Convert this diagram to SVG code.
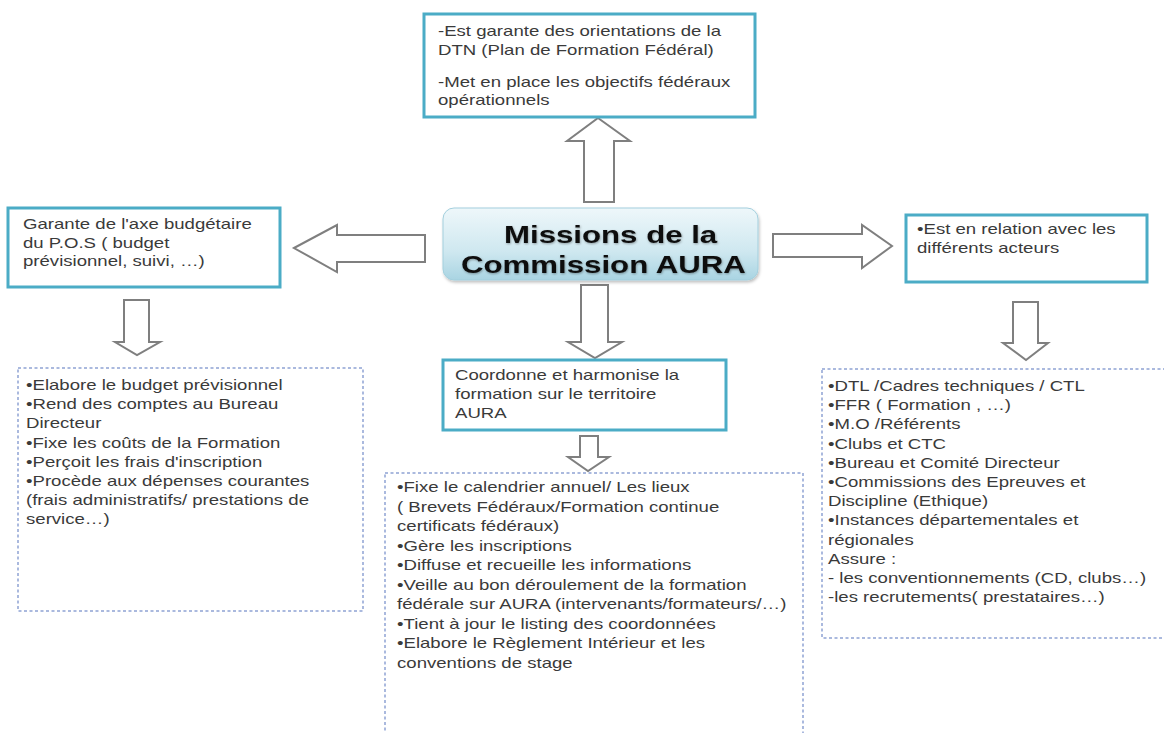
<svg xmlns="http://www.w3.org/2000/svg" width="1164" height="733" viewBox="0 0 1164 733">
  <defs>
    <linearGradient id="cg" x1="0" y1="0" x2="0" y2="1">
      <stop offset="0" stop-color="#eef7fa"/>
      <stop offset="0.6" stop-color="#cfe8f0"/>
      <stop offset="1" stop-color="#a9d4e2"/>
    </linearGradient>
    <filter id="sh" x="-10%" y="-10%" width="120%" height="130%">
      <feDropShadow dx="1" dy="2" stdDeviation="1.5" flood-color="#000" flood-opacity="0.25"/>
    </filter>
    <filter id="tsh" x="-5%" y="-20%" width="110%" height="140%">
      <feDropShadow dx="0.5" dy="1" stdDeviation="0.8" flood-color="#000" flood-opacity="0.35"/>
    </filter>
  </defs>
  <style>
    .box { fill: #ffffff; stroke: #4bacc6; stroke-width: 3; }
    .dot { fill: #ffffff; stroke: #8ea3d4; stroke-width: 1.5; stroke-dasharray: 3 2.5; }
    .arr { fill: #ffffff; stroke: #7f7f7f; stroke-width: 2; stroke-linejoin: miter; }
    .t { font-family: "Liberation Sans", Arial, sans-serif; font-size: 14.3px; fill: #3a3a3a; }
    .title { font-family: "Liberation Sans", Arial, sans-serif; font-size: 24px; font-weight: bold; fill: #111; }
  </style>
  <rect width="1164" height="733" fill="#ffffff"/>

  <g id="connectors">
    <polygon class="arr" points="598,118 630,141 614,141 614,202 584,202 584,141 567,141"/>
    <polygon class="arr" points="294,248 337,225 337,235 425,235 425,262 337,262 337,272"/>
    <polygon class="arr" points="773,234 862,234 862,225 892,246 862,268 862,257 773,257"/>
    <polygon class="arr" points="581,285 608,285 608,342 622,342 595,358 568,342 581,342"/>
    <polygon class="arr" points="580,436 598,436 598,457 609,457 588,471 568,457 580,457"/>
    <polygon class="arr" points="124,300 149,300 149,342 160,342 137,355 115,342 124,342"/>
    <polygon class="arr" points="1013,302 1038,302 1038,343 1048,343 1026,360 1003,343 1013,343"/>
  </g>

  <g id="node-top">
    <rect class="box" x="424" y="14" width="331" height="103"/>
    <text class="t" transform="translate(438,0) scale(1.3,1)">
      <tspan x="0" y="36">-Est garante des orientations de la</tspan>
      <tspan x="0" y="55">DTN (Plan de Formation Fédéral)</tspan>
      <tspan x="0" y="87">-Met en place les objectifs fédéraux</tspan>
      <tspan x="0" y="105">opérationnels</tspan>
    </text>
  </g>

  <g id="node-center">
    <rect x="443" y="208" width="315" height="72" rx="11" fill="url(#cg)" stroke="#a3cfdd" stroke-width="1" filter="url(#sh)"/>
    <text class="title" filter="url(#tsh)" transform="translate(504,0) scale(1.3,1)">
      <tspan x="0" y="243">Missions de la</tspan>
    </text>
    <text class="title" filter="url(#tsh)" transform="translate(461,0) scale(1.3,1)">
      <tspan x="0" y="273">Commission AURA</tspan>
    </text>
  </g>

  <g id="node-left">
    <rect class="box" x="8" y="208" width="272" height="79"/>
    <text class="t" transform="translate(23,0) scale(1.3,1)">
      <tspan x="0" y="229">Garante de l'axe budgétaire</tspan>
      <tspan x="0" y="248">du P.O.S ( budget</tspan>
      <tspan x="0" y="266">prévisionnel, suivi, …)</tspan>
    </text>
  </g>

  <g id="node-right">
    <rect class="box" x="906" y="215" width="241" height="67"/>
    <text class="t" transform="translate(917,0) scale(1.3,1)">
      <tspan x="0" y="234">•Est en relation avec les</tspan>
      <tspan x="0" y="253">différents acteurs</tspan>
    </text>
  </g>

  <g id="node-coord">
    <rect class="box" x="443" y="360" width="283" height="70"/>
    <text class="t" transform="translate(455,0) scale(1.3,1)">
      <tspan x="0" y="380">Coordonne et harmonise la</tspan>
      <tspan x="0" y="399">formation sur le territoire</tspan>
      <tspan x="0" y="418">AURA</tspan>
    </text>
  </g>

  <g id="node-left-list">
    <rect class="dot" x="18" y="368" width="345" height="243"/>
    <text class="t" transform="translate(26,0) scale(1.3,1)">
      <tspan x="0" y="390">•Elabore le budget prévisionnel</tspan>
      <tspan x="0" y="409.2">•Rend des comptes au Bureau</tspan>
      <tspan x="0" y="428.4">Directeur</tspan>
      <tspan x="0" y="447.6">•Fixe les coûts de la Formation</tspan>
      <tspan x="0" y="466.8">•Perçoit les frais d'inscription</tspan>
      <tspan x="0" y="486">•Procède aux dépenses courantes</tspan>
      <tspan x="0" y="505.2">(frais administratifs/ prestations de</tspan>
      <tspan x="0" y="524.4">service…)</tspan>
    </text>
  </g>

  <g id="node-middle-list">
    <rect class="dot" x="385" y="473" width="418" height="280"/>
    <text class="t" transform="translate(397,0) scale(1.3,1)">
      <tspan x="0" y="492.5">•Fixe le calendrier  annuel/ Les lieux</tspan>
      <tspan x="0" y="512">( Brevets Fédéraux/Formation continue</tspan>
      <tspan x="0" y="531.5">certificats fédéraux)</tspan>
      <tspan x="0" y="551">•Gère les inscriptions</tspan>
      <tspan x="0" y="570.5">•Diffuse et recueille les informations</tspan>
      <tspan x="0" y="590">•Veille au bon déroulement de la formation</tspan>
      <tspan x="0" y="609.5">fédérale sur AURA (intervenants/formateurs/…)</tspan>
      <tspan x="0" y="629">•Tient à jour le listing des coordonnées</tspan>
      <tspan x="0" y="648.5">•Elabore le Règlement Intérieur et les</tspan>
      <tspan x="0" y="668">conventions de stage</tspan>
    </text>
  </g>

  <g id="node-right-list">
    <rect class="dot" x="822" y="369" width="360" height="269"/>
    <text class="t" transform="translate(828,0) scale(1.3,1)">
      <tspan x="0" y="391">•DTL /Cadres techniques / CTL</tspan>
      <tspan x="0" y="410.2">•FFR ( Formation , …)</tspan>
      <tspan x="0" y="429.4">•M.O /Référents</tspan>
      <tspan x="0" y="448.6">•Clubs et CTC</tspan>
      <tspan x="0" y="467.8">•Bureau et Comité Directeur</tspan>
      <tspan x="0" y="487">•Commissions des Epreuves et</tspan>
      <tspan x="0" y="506.2">Discipline (Ethique)</tspan>
      <tspan x="0" y="525.4">•Instances départementales et</tspan>
      <tspan x="0" y="544.6">régionales</tspan>
      <tspan x="0" y="563.8">Assure :</tspan>
      <tspan x="0" y="583">- les conventionnements (CD, clubs…)</tspan>
      <tspan x="0" y="602.2">-les recrutements( prestataires…)</tspan>
    </text>
  </g>
</svg>
